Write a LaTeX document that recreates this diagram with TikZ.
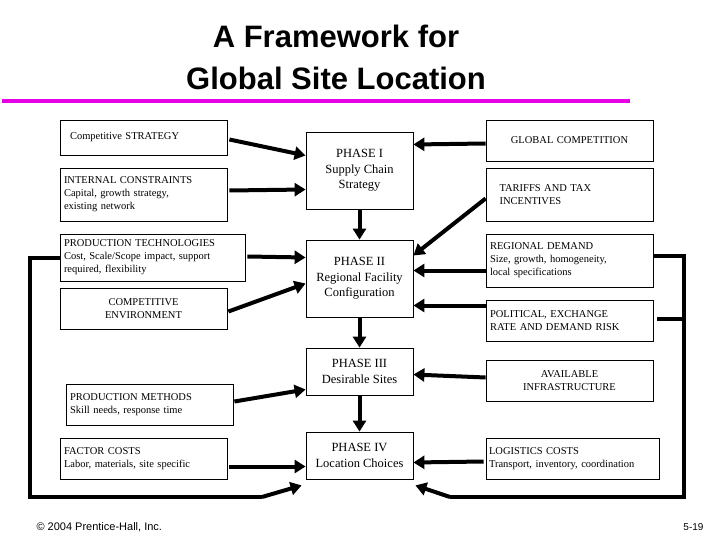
\documentclass[tikz,border=0pt]{standalone}
\usepackage{fontspec}
\setmainfont{Liberation Serif}
\newfontfamily\sans{Liberation Sans}
\usetikzlibrary{arrows.meta}
\begin{document}
\begin{tikzpicture}[x=1pt,y=-1pt,
  box/.style={draw,line width=0.8pt,inner sep=4pt,font=\fontsize{10.5}{13}\selectfont},
  lbox/.style={box,align=left},
  cbox/.style={box,align=center},
  ph/.style={draw,line width=0.8pt,minimum width=107pt,align=center,font=\fontsize{12.5}{15.5}\selectfont},
  arr/.style={line width=4pt,-{Triangle[length=11pt,width=13pt]}},
  ln/.style={line width=4pt}]
\useasboundingbox (0,0) rectangle (720,540);
\node[font=\sans\bfseries\fontsize{31}{42}\selectfont,align=center] (title) at (336,57) {A Framework for\\Global Site Location};
\draw[line width=4pt,color={rgb,255:red,230;green,0;blue,230}] (2,101) coordinate (ml) -- (630,101) coordinate (mr);
% left
\node[lbox,minimum width=167pt,minimum height=35pt,text width=159pt] (cs) at (143.5,137.5) {\hspace*{6pt}Competitive STRATEGY};
\node[lbox,minimum width=167pt,minimum height=53pt,text width=159pt] (ic) at (143.5,194.5) {INTERNAL CONSTRAINTS\\Capital, growth strategy,\\existing network};
\node[lbox,minimum width=185pt,minimum height=47pt,text width=177pt] (pt) at (152.5,257.5) {PRODUCTION TECHNOLOGIES\\Cost, Scale/Scope impact, support\\required, flexibility};
\node[cbox,minimum width=167pt,minimum height=41pt,text width=159pt] (ce) at (143.5,308.5) {COMPETITIVE\\ENVIRONMENT};
\node[lbox,minimum width=167pt,minimum height=41pt,text width=159pt] (pm) at (149.5,404.5) {PRODUCTION METHODS\\Skill needs, response time};
\node[lbox,minimum width=167pt,minimum height=41pt,text width=159pt] (fc) at (143.5,458.5) {FACTOR COSTS\\Labor, materials, site specific};
% phases
\node[ph,minimum height=77pt] (p1) at (359.5,170.5) {PHASE I\\Supply Chain\\Strategy};
\node[ph,minimum height=77pt] (p2) at (359.5,278.5) {PHASE II\\Regional Facility\\Configuration};
\node[ph,minimum height=47pt] (p3) at (359.5,371.5) {PHASE III\\Desirable Sites};
\node[ph,minimum height=47pt] (p4) at (359.5,455.5) {PHASE IV\\Location Choices};
% right
\node[cbox,minimum width=167pt,minimum height=41pt,text width=159pt] (gc) at (569.5,140.5) {GLOBAL COMPETITION\\[4pt]};
\node[lbox,minimum width=167pt,minimum height=53pt,text width=140pt] (tt) at (569.5,194.5) {TARIFFS AND TAX\\INCENTIVES};
\node[lbox,minimum width=167pt,minimum height=53pt,text width=159pt] (rd) at (569.5,260.5) {REGIONAL DEMAND\\Size, growth, homogeneity,\\local specifications};
\node[lbox,minimum width=167pt,minimum height=41pt,text width=159pt] (po) at (569.5,320.5) {POLITICAL, EXCHANGE\\RATE AND DEMAND RISK};
\node[cbox,minimum width=167pt,minimum height=41pt,text width=159pt] (ai) at (569.5,380.5) {AVAILABLE\\INFRASTRUCTURE};
\node[lbox,minimum width=173pt,minimum height=41pt,text width=167pt,inner sep=3pt] (lc) at (572.5,458.5) {LOGISTICS COSTS\\Transport, inventory, coordination};
% arrows left
\draw[arr] ([xshift=2pt,yshift=-2pt]cs.east) -- ([yshift=15pt]p1.west);
\draw[arr] ([xshift=2pt,yshift=4pt]ic.east) -- ([yshift=-19pt]p1.west);
\draw[arr] ([xshift=2pt,yshift=1pt]pt.east) -- ([yshift=21pt]p2.west);
\draw[arr] ([xshift=1pt,yshift=-3pt]ce.east) -- ([yshift=-5pt]p2.west);
\draw[arr] ([xshift=1pt,yshift=3pt]pm.east) -- ([yshift=-18pt]p3.west);
\draw[arr] ([xshift=2pt,yshift=-8pt]fc.east) -- ([yshift=-11pt]p4.west);
% arrows right
\draw[arr] ([yshift=-3pt]gc.west) -- ([yshift=26pt]p1.east);
\draw[arr] ([yshift=-4pt]tt.west) -- ([yshift=23pt]p2.east);
\draw[arr] ([yshift=-10pt]rd.west) -- ([yshift=8pt]p2.east);
\draw[arr] ([yshift=15pt]po.west) -- ([yshift=-27pt]p2.east);
\draw[arr] ([yshift=3pt]ai.west) -- ([yshift=-3pt]p3.east);
\draw[arr] ([xshift=-2pt,yshift=-3pt]lc.west) -- ([yshift=-7pt]p4.east);
% phase arrows
\draw[arr] (p1.south) -- (p2.north);
\draw[arr] (p2.south) -- (p3.north);
\draw[arr] (p3.south) -- (p4.north);
% loops
\coordinate (lb) at (262,497);
\draw[ln] (pt.west) -- (30,257.5) -- (30,497) -- (lb);
\draw[arr] (lb) -- ([xshift=-4pt,yshift=-6pt]p4.south west);
\coordinate (rb) at (450,497);
\draw[ln] ([xshift=1pt,yshift=5pt]rd.east) -- (684,255.5) -- (684,497) -- (rb);
\draw[ln] ([xshift=4pt,yshift=2pt]po.east) -- (684,318.5);
\draw[arr] (rb) -- ([xshift=2pt,yshift=-6pt]p4.south east);
% footer
\node[font=\sans\fontsize{11}{13}\selectfont,anchor=west] (cp) at (33,527) {\textcopyright{} 2004 Prentice-Hall, Inc.};
\node[font=\sans\fontsize{10}{12}\selectfont,anchor=east] (pg) at (707,527) {5-19};
\end{tikzpicture}
\end{document}
